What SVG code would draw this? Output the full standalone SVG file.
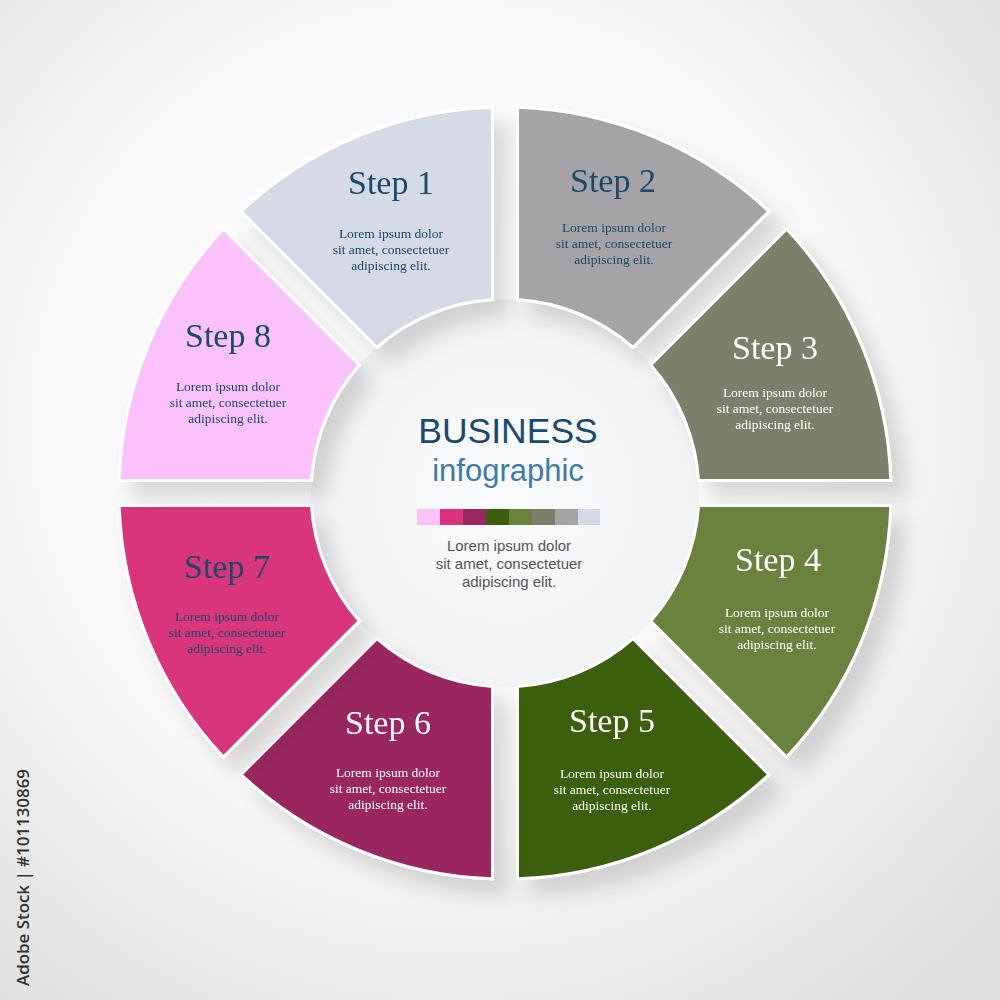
<svg xmlns="http://www.w3.org/2000/svg" width="1000" height="1000" viewBox="0 0 1000 1000">
<defs>
  <radialGradient id="bg" cx="0.45" cy="0.42" r="0.75">
    <stop offset="0" stop-color="#ffffff"/>
    <stop offset="0.55" stop-color="#f8f8f8"/>
    <stop offset="1" stop-color="#dedede"/>
  </radialGradient>
  <radialGradient id="hub" cx="0.5" cy="0.5" r="0.5">
    <stop offset="0" stop-color="#fafbfc"/>
    <stop offset="1" stop-color="#f2f3f5"/>
  </radialGradient>
  <filter id="sh" x="-20%" y="-20%" width="150%" height="150%">
    <feGaussianBlur in="SourceAlpha" stdDeviation="10"/>
    <feOffset dx="14" dy="16" result="b"/>
    <feFlood flood-color="#000" flood-opacity="0.14"/>
    <feComposite in2="b" operator="in"/>
    <feMerge><feMergeNode/><feMergeNode in="SourceGraphic"/></feMerge>
  </filter>
  <path id="seg" d="M 517.5 107.2 A 386 386 0 0 1 768.96 211.36 L 633.06 347.26 A 194 194 0 0 0 517.5 299.4 Z"/>
</defs>
<style>
  .s { stroke: #ffffff; stroke-width: 3; stroke-linejoin: miter; }
  .t { font-family: "Liberation Serif", "Times New Roman", serif; font-size: 34px; text-anchor: middle; }
  .b { font-family: "Liberation Serif", "Times New Roman", serif; font-size: 13.5px; text-anchor: middle; }
  .dk { fill: #174a6b; }
  .wh { fill: #ffffff; }
  .ct { font-family: "Liberation Sans", Arial, sans-serif; text-anchor: middle; }
</style>
<rect width="1000" height="1000" fill="url(#bg)"/>
<g id="hub-circle">
  <circle cx="505" cy="493" r="194" fill="url(#hub)"/>
</g>
<g id="step1" filter="url(#sh)">
  <use href="#seg" class="s" fill="#d6dae6" transform="rotate(-45 505 493)"/>
  <text class="t dk" x="391" y="194">Step 1</text>
  <text class="b dk" x="391" y="238">Lorem ipsum dolor</text>
  <text class="b dk" x="391" y="254">sit amet, consectetuer</text>
  <text class="b dk" x="391" y="270">adipiscing elit.</text>
</g>
<g id="step2" filter="url(#sh)">
  <use href="#seg" class="s" fill="#a5a3a6"/>
  <text class="t dk" x="613" y="192">Step 2</text>
  <text class="b dk" x="614" y="232">Lorem ipsum dolor</text>
  <text class="b dk" x="614" y="248">sit amet, consectetuer</text>
  <text class="b dk" x="614" y="264">adipiscing elit.</text>
</g>
<g id="step3" filter="url(#sh)">
  <use href="#seg" class="s" fill="#7c806a" transform="rotate(45 505 493)"/>
  <text class="t wh" x="775" y="359">Step 3</text>
  <text class="b wh" x="775" y="397">Lorem ipsum dolor</text>
  <text class="b wh" x="775" y="413">sit amet, consectetuer</text>
  <text class="b wh" x="775" y="429">adipiscing elit.</text>
</g>
<g id="step4" filter="url(#sh)">
  <use href="#seg" class="s" fill="#6a823c" transform="rotate(90 505 493)"/>
  <text class="t wh" x="778" y="571">Step 4</text>
  <text class="b wh" x="777" y="617">Lorem ipsum dolor</text>
  <text class="b wh" x="777" y="633">sit amet, consectetuer</text>
  <text class="b wh" x="777" y="649">adipiscing elit.</text>
</g>
<g id="step5" filter="url(#sh)">
  <use href="#seg" class="s" fill="#3b5e0c" transform="rotate(135 505 493)"/>
  <text class="t wh" x="612" y="732">Step 5</text>
  <text class="b wh" x="612" y="778">Lorem ipsum dolor</text>
  <text class="b wh" x="612" y="794">sit amet, consectetuer</text>
  <text class="b wh" x="612" y="810">adipiscing elit.</text>
</g>
<g id="step6" filter="url(#sh)">
  <use href="#seg" class="s" fill="#9a275f" transform="rotate(180 505 493)"/>
  <text class="t wh" x="388" y="734">Step 6</text>
  <text class="b wh" x="388" y="777">Lorem ipsum dolor</text>
  <text class="b wh" x="388" y="793">sit amet, consectetuer</text>
  <text class="b wh" x="388" y="809">adipiscing elit.</text>
</g>
<g id="step7" filter="url(#sh)">
  <use href="#seg" class="s" fill="#d9347a" transform="rotate(225 505 493)"/>
  <text class="t dk" x="227" y="578">Step 7</text>
  <text class="b dk" x="227" y="621">Lorem ipsum dolor</text>
  <text class="b dk" x="227" y="637">sit amet, consectetuer</text>
  <text class="b dk" x="227" y="653">adipiscing elit.</text>
</g>
<g id="step8" filter="url(#sh)">
  <use href="#seg" class="s" fill="#fbc1fb" transform="rotate(270 505 493)"/>
  <text class="t dk" x="228" y="347">Step 8</text>
  <text class="b dk" x="228" y="391">Lorem ipsum dolor</text>
  <text class="b dk" x="228" y="407">sit amet, consectetuer</text>
  <text class="b dk" x="228" y="423">adipiscing elit.</text>
</g>
<g id="center">
  <text class="ct" x="508" y="443" font-size="35.5" fill="#174a6e">BUSINESS</text>
  <text class="ct" x="508" y="481" font-size="31" fill="#3f7ba8">infographic</text>
  <g id="palette">
    <rect x="417" y="509" width="23" height="16" fill="#fbc1fb"/>
    <rect x="440" y="509" width="23" height="16" fill="#d9347a"/>
    <rect x="463" y="509" width="23" height="16" fill="#9a275f"/>
    <rect x="486" y="509" width="23" height="16" fill="#3b5e0c"/>
    <rect x="509" y="509" width="23" height="16" fill="#6a823c"/>
    <rect x="532" y="509" width="23" height="16" fill="#7c806a"/>
    <rect x="555" y="509" width="23" height="16" fill="#a5a3a6"/>
    <rect x="578" y="509" width="22" height="16" fill="#d6dae6"/>
  </g>
  <text class="ct" x="509" y="551" font-size="15" fill="#555555">Lorem ipsum dolor</text>
  <text class="ct" x="509" y="569" font-size="15" fill="#555555">sit amet, consectetuer</text>
  <text class="ct" x="509" y="587" font-size="15" fill="#555555">adipiscing elit.</text>
</g>
<g id="connectors"></g>
<text x="0" y="0" transform="translate(29 986) rotate(-90)" font-family="'Open Sans', 'DejaVu Sans', sans-serif" font-size="17" font-weight="600" fill="#333333" textLength="217" lengthAdjust="spacingAndGlyphs">Adobe Stock | #101130869</text>
</svg>
